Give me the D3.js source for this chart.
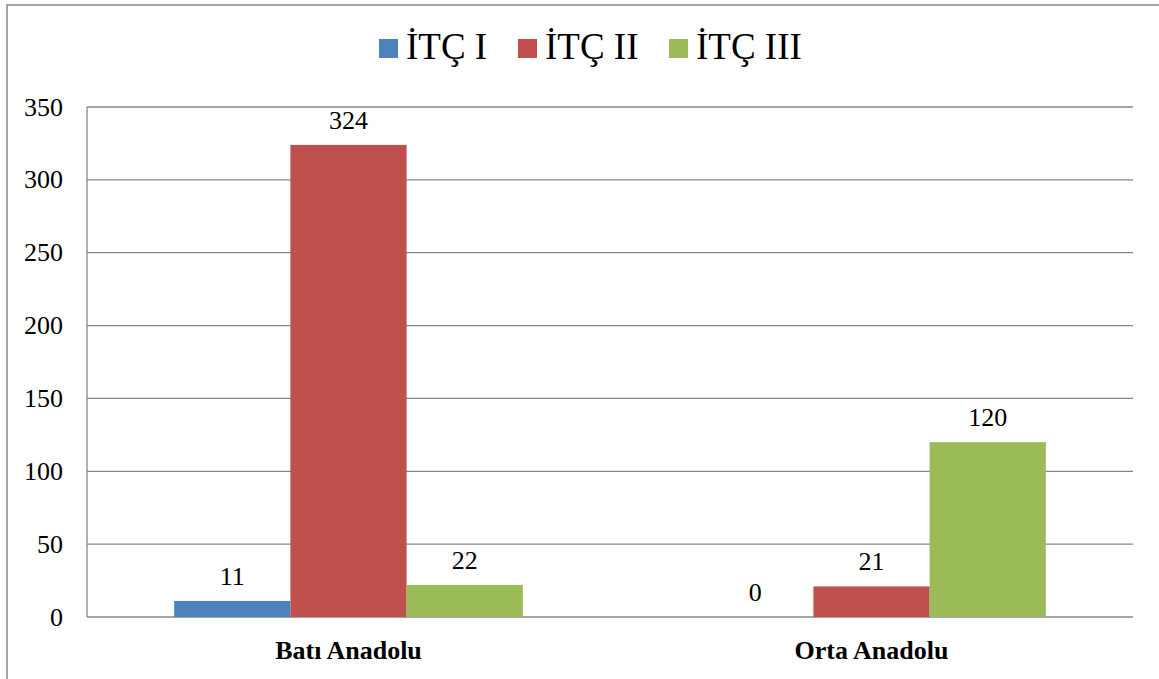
<!DOCTYPE html>
<html>
<head>
<meta charset="utf-8">
<script src="https://cdn.jsdelivr.net/npm/d3@7"></script>
<style>
  body { margin: 0; background: #fff; }
  svg { display: block; }
</style>
</head>
<body>
<svg id="chart" width="1159" height="679"></svg>
<script>
// chart data
const categories = ['Batı Anadolu', 'Orta Anadolu'];
const seriesNames = ['İTÇ I', 'İTÇ II', 'İTÇ III'];
const seriesColors = ['#4F81BD', '#C0504D', '#9BBB59'];
const itc1 = [11, 0];
const itc2 = [324, 21];
const itc3 = [22, 120];
const yTicks = [0, 50, 100, 150, 200, 250, 300, 350];

const values = [itc1, itc2, itc3];
const serif = 'Liberation Serif';

const svg = d3.select('#chart');

// plot area
const plotLeft = 87, plotRight = 1133, plotTop = 107, plotBottom = 617;

// outer frame (runs off right and bottom edge)
svg.append('rect')
  .attr('x', 7).attr('y', 5)
  .attr('width', 1200).attr('height', 720)
  .attr('fill', 'none')
  .attr('stroke', '#888')
  .attr('stroke-width', 1.5);

const x0 = d3.scaleBand().domain(categories).range([plotLeft, plotRight]).padding(0);
// gap width 150% -> 3 bars + 1.5 bar gap per category
const barW = x0.bandwidth() / 4.5;
const y = d3.scaleLinear().domain([0, 350]).range([plotBottom, plotTop]);

// gridlines
svg.append('g')
  .selectAll('line')
  .data(yTicks)
  .join('line')
  .attr('x1', plotLeft).attr('x2', plotRight)
  .attr('y1', d => y(d)).attr('y2', d => y(d))
  .attr('stroke', '#878787')
  .attr('stroke-width', 1.3);

// y axis line
svg.append('line')
  .attr('x1', plotLeft).attr('x2', plotLeft)
  .attr('y1', plotTop).attr('y2', plotBottom)
  .attr('stroke', '#878787')
  .attr('stroke-width', 1.3);

// y tick labels
svg.append('g')
  .attr('font-family', serif)
  .selectAll('text')
  .data(yTicks)
  .join('text')
  .attr('x', 63)
  .attr('y', d => y(d) + 8.5)
  .attr('text-anchor', 'end')
  .attr('font-size', 26)
  .text(d => d);

// bars
const rows = [];
categories.forEach((c, ci) => {
  values.forEach((arr, si) => {
    rows.push({ cat: c, s: si, v: arr[ci] });
  });
});

const barX = d => x0(d.cat) + x0.bandwidth() / 2 - 1.5 * barW + d.s * barW;

svg.append('g')
  .selectAll('rect')
  .data(rows)
  .join('rect')
  .attr('x', barX)
  .attr('y', d => y(d.v))
  .attr('width', barW)
  .attr('height', d => y(0) - y(d.v))
  .attr('fill', d => seriesColors[d.s]);

// data labels
svg.append('g')
  .attr('font-family', serif)
  .selectAll('text')
  .data(rows)
  .join('text')
  .attr('x', d => barX(d) + barW / 2)
  .attr('y', d => y(d.v) - 16)
  .attr('text-anchor', 'middle')
  .attr('font-size', 26)
  .text(d => d.v);

// category labels
svg.append('g')
  .attr('font-family', serif)
  .selectAll('text')
  .data(categories)
  .join('text')
  .attr('x', d => x0(d) + x0.bandwidth() / 2)
  .attr('y', 659)
  .attr('text-anchor', 'middle')
  .attr('font-size', 26)
  .attr('font-weight', 'bold')
  .text(d => d);

// legend
const legendX = [379, 518, 669];
const legend = svg.append('g')
  .attr('font-family', serif)
  .selectAll('g')
  .data(seriesNames)
  .join('g')
  .attr('transform', (d, i) => `translate(${legendX[i]},39)`);

legend.append('rect')
  .attr('width', 19).attr('height', 19)
  .attr('fill', (d, i) => seriesColors[i]);

legend.append('text')
  .attr('x', 27)
  .attr('y', 20)
  .attr('font-size', 37)
  .text(d => d);
</script>
</body>
</html>
